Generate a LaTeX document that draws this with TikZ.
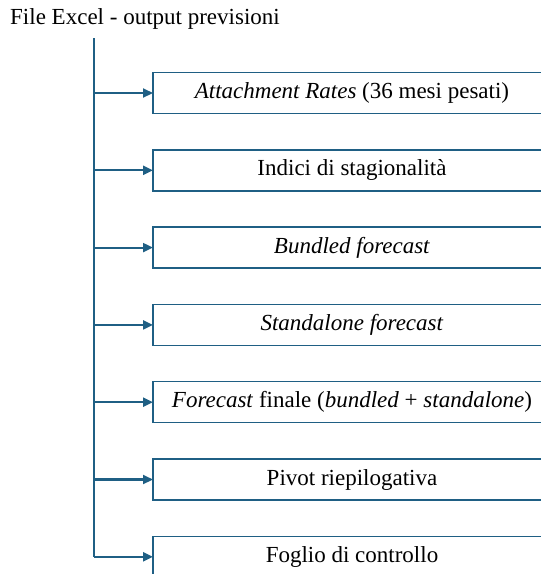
\documentclass[tikz,border=0pt]{standalone}
\usepackage{fontspec}
\setmainfont{Liberation Serif}
\usepackage{tikz}
\usetikzlibrary{arrows.meta,positioning}
\definecolor{linkblue}{RGB}{31,95,132}
\tikzset{
  box/.style={draw=linkblue, line width=1.5pt, fill=white, minimum width=398pt, minimum height=41pt, inner sep=0pt, outer sep=0pt, anchor=west},
  arr/.style={-{Triangle[length=10pt,width=9pt]}, line width=2.2pt, draw=linkblue},
  trunk/.style={line width=2.2pt, draw=linkblue}}
\begin{document}
\begin{tikzpicture}[x=1pt, y=-1pt, node distance=36.3pt, font=\fontsize{23}{27}\selectfont]
  \useasboundingbox (0,0) rectangle (541,574);
  \clip (0,0) rectangle (541,574);
  \node[anchor=base west, inner sep=0pt] (title) at (10,24) {File Excel - output previsioni};
  \coordinate (top) at (94,38);
  \node[box] (rates) at (153,93) {\textit{Attachment Rates} (36 mesi pesati)};
  \node[box, below=of rates] (season) {Indici di stagionalità};
  \node[box, below=of season] (bundled) {\textit{Bundled forecast}};
  \node[box, below=of bundled] (standalone) {\textit{Standalone forecast}};
  \node[box, below=of standalone] (final) {\textit{Forecast} finale (\textit{bundled} + \textit{standalone})};
  \node[box, below=of final] (pivot) {Pivot riepilogativa};
  \node[box, below=of pivot] (check) {Foglio di controllo};
  \draw[trunk] (top) -- (top |- check.west);
  \foreach \b in {rates,season,bundled,standalone,final,pivot,check}
    \draw[arr] (top |- \b.west) -- (\b.west);
\end{tikzpicture}
\end{document}
